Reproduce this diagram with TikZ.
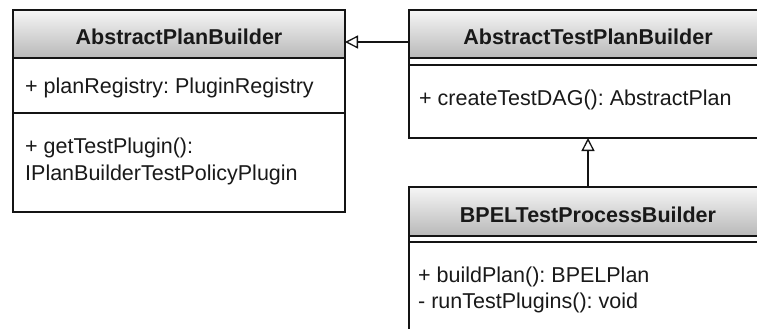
\documentclass[tikz,border=0pt]{standalone}
\usepackage{fontspec}
\setmainfont{Liberation Sans}
\usetikzlibrary{arrows.meta}
\definecolor{hdrtop}{RGB}{246,246,246}
\definecolor{hdrbot}{RGB}{184,184,184}
\definecolor{edge}{RGB}{20,20,20}
\frenchspacing
\begin{document}
\begin{tikzpicture}[x=1pt,y=-1pt,
  part/.style={draw=edge, line width=1.4pt, inner sep=0pt, outer sep=0pt, anchor=north west, fill=white},
  hdr/.style={part, top color=hdrtop, bottom color=hdrbot},
  title/.style={font=\frenchspacing\fontsize{21.5}{26}\selectfont\bfseries, anchor=base, inner sep=0pt, text=black!90},
  member/.style={font=\frenchspacing\fontsize{21.5}{27}\selectfont, anchor=base west, inner sep=0pt, text=black!90},
  gen/.style={draw=edge, line width=1.3pt, -{Triangle[open, length=13pt, width=13pt, line width=1.3pt]}}
]
\useasboundingbox (0,0) rectangle (757,329);
\clip (0,0) rectangle (757,329);

% AbstractPlanBuilder
\node[hdr, minimum width=332pt, minimum height=48pt] (apbH) at (13,10) {};
\node[part, minimum width=332pt, minimum height=55pt] (apbA) at (13,58) {};
\node[part, minimum width=332pt, minimum height=99pt] (apbM) at (13,113) {};
\node[title] (apbT) at (179,45) {AbstractPlanBuilder};
\node[member] (apbA1) at (25,93) {+ planRegistry: PluginRegistry};
\node[member] (apbM1) at (25,153) {+ getTestPlugin():};
\node[member] (apbM2) at (25,180) {IPlanBuilderTestPolicyPlugin};

% AbstractTestPlanBuilder
\node[hdr, minimum width=358pt, minimum height=48pt] (tpbH) at (409,10) {};
\node[part, minimum width=358pt, minimum height=7pt] (tpbA) at (409,58) {};
\node[part, minimum width=358pt, minimum height=73pt] (tpbM) at (409,65) {};
\node[title] (tpbT) at (588,45) {AbstractTestPlanBuilder};
\node[member] (tpbM1) at (419,105) {+ createTestDAG(): AbstractPlan};

% BPELTestProcessBuilder
\node[hdr, minimum width=358pt, minimum height=49pt] (bpH) at (409,187) {};
\node[part, minimum width=358pt, minimum height=6pt] (bpA) at (409,236) {};
\node[part, minimum width=358pt, minimum height=120pt] (bpM) at (409,242) {};
\node[title] (bpT) at (588,222) {BPELTestProcessBuilder};
\node[member] (bpM1) at (418,282) {+ buildPlan(): BPELPlan};
\node[member] (bpM2) at (418,308) {- runTestPlugins(): void};

% generalizations
\draw[gen] ([yshift=-8pt]tpbH.west) -- ([yshift=-8pt]apbH.east);
\draw[gen] (bpH.north) -- (tpbM.south);
\end{tikzpicture}
\end{document}
